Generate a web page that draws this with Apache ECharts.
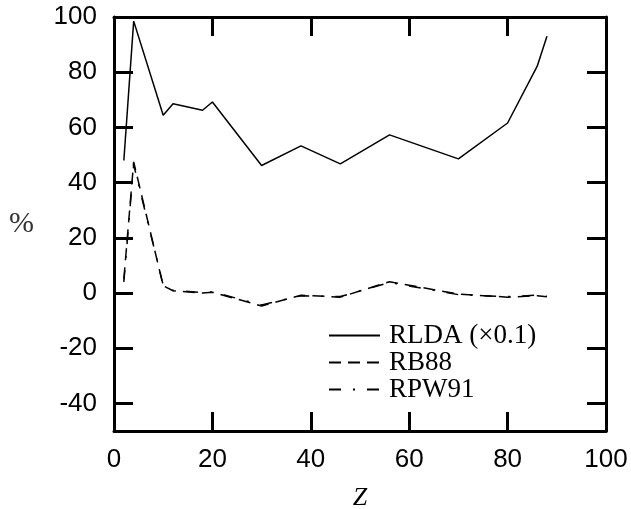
<!DOCTYPE html>
<html>
<head>
<meta charset="utf-8">
<script src="https://cdn.jsdelivr.net/npm/echarts@6/dist/echarts.min.js"></script>
<style>
  html, body { margin: 0; padding: 0; background: #fff; }
  #chart { width: 631px; height: 509px; }
</style>
</head>
<body>
<div id="chart"></div>
<script>
// atomic number Z of each closed-shell atom
const zValues = [2, 4, 10, 12, 18, 20, 30, 38, 46, 56, 70, 80, 86, 88];
// relative errors in %
const rlda = [48, 98.5, 64.4, 68.6, 66.2, 69.2, 46.2, 53.3, 46.8, 57.3, 48.6, 61.6, 82.1, 93];
const rb88 = [5, 47.5, 2.6, 0.8, 0, 0.3, -4.7, -0.8, -1.5, 4.1, -0.4, -1.5, -1, -1.4];
const rpw91 = [4, 46.5, 2.8, 0.9, 0.2, 0.4, -4.3, -1, -1.3, 3.8, -0.6, -1.3, -0.8, -1.2];
const yTicks = [-40, -20, 0, 20, 40, 60, 80, 100];
const xTicks = [0, 20, 40, 60, 80, 100];

const pairs = (vals) => zValues.map((z, i) => [z, vals[i]]);

const chart = echarts.init(document.getElementById("chart"));

const axisLine = { show: true, onZero: false, lineStyle: { color: "#000", width: 3 } };
const tick = { show: true, inside: true, length: 19, lineStyle: { color: "#000", width: 3 } };
const labelFont = { color: "#000", fontSize: 26, fontFamily: "Liberation Sans" };

const option = {
    animation: false,
    backgroundColor: "#fff",
    grid: { left: 114, right: 25, top: 17, bottom: 78, containLabel: false, outerBoundsMode: "none" },
    legend: {
        orient: "vertical",
        left: 328,
        top: 322,
        itemWidth: 51,
        itemHeight: 14,
        itemGap: 0,
        padding: 0,
        itemStyle: { opacity: 0 },
        textStyle: {
            color: "#000",
            fontSize: 27,
            lineHeight: 27,
            fontFamily: "Liberation Serif",
            padding: [0, 0, 0, 4]
        },
        data: ["RLDA (×0.1)", "RB88", "RPW91"]
    },
    xAxis: [
        {
            type: "value", min: 0, max: 100, interval: 20,
            name: "Z", nameLocation: "middle", nameGap: 54,
            nameTextStyle: { color: "#000", fontSize: 26, fontFamily: "Liberation Serif", fontStyle: "italic" },
            axisLine: axisLine,
            axisTick: { ...tick, customValues: xTicks },
            axisLabel: { ...labelFont, margin: 16, customValues: xTicks },
            splitLine: { show: false }
        },
        {
            type: "value", min: 0, max: 100, interval: 20, position: "top",
            axisLine: axisLine,
            axisTick: tick,
            axisLabel: { show: false },
            splitLine: { show: false }
        }
    ],
    yAxis: [
        {
            type: "value", min: -50, max: 100, interval: 10,
            name: "%", nameLocation: "middle", nameRotate: 0, nameGap: 80,
            nameTextStyle: { color: "#333", fontSize: 30, fontFamily: "Liberation Serif", padding: [0, 0, 0, 0] },
            axisLine: axisLine,
            axisTick: { ...tick, customValues: yTicks },
            axisLabel: { ...labelFont, margin: 17, customValues: yTicks },
            splitLine: { show: false }
        },
        {
            type: "value", min: -50, max: 100, interval: 10, position: "right",
            axisLine: axisLine,
            axisTick: { ...tick, customValues: yTicks },
            axisLabel: { show: false },
            splitLine: { show: false }
        }
    ],
    series: [
        {
            name: "RLDA (×0.1)", type: "line", data: pairs(rlda),
            symbol: "none", color: "#000",
            lineStyle: { color: "#000", width: 1.5, type: "solid" }
        },
        {
            name: "RB88", type: "line", data: pairs(rb88),
            symbol: "none", color: "#000",
            lineStyle: { color: "#000", width: 1.5, type: [12, 7] }
        },
        {
            name: "RPW91", type: "line", data: pairs(rpw91),
            symbol: "none", color: "#000",
            lineStyle: { color: "#000", width: 1.5, type: [12, 12, 2, 12] }
        }
    ]
};

chart.setOption(option);
</script>
</body>
</html>
